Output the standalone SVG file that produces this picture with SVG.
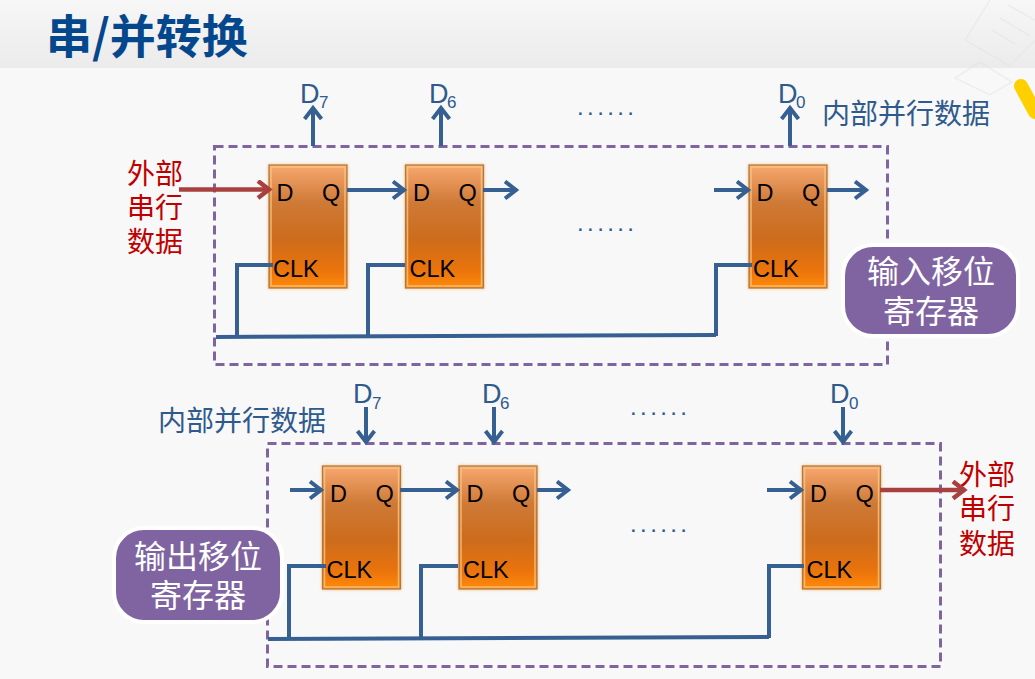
<svg xmlns="http://www.w3.org/2000/svg" width="1035" height="679" viewBox="0 0 1035 679">
<style>
.cjk{font-family:"Noto Sans CJK SC","Liberation Sans",sans-serif}
.lat{font-family:"Liberation Sans",Arial,sans-serif}
.ff{font-size:23.500px;fill:#000}
.red{fill:#c00000;font-size:28px;text-anchor:middle}
.int{font-size:28px;fill:#2f5a8e}
.dots{font-size:24px;fill:#2f5a8e;letter-spacing:3.400px}
.d{font-size:27px;fill:#2f5a8e}
.sub{font-size:17px;fill:#2f5a8e}
.wire{fill:none;stroke:#376092;stroke-width:4}
.arr{fill:none;stroke:#376092;stroke-width:4;marker-end:url(#bh)}
.rarr{fill:none;stroke:#a84040;stroke-width:4.5;marker-end:url(#rh)}
.dash{fill:none;stroke:#8064a2;stroke-width:3;stroke-dasharray:9 5}
.pill{fill:#8064a2;stroke:#fff;stroke-width:4}
.pt{font-size:32px;fill:#fff;text-anchor:middle}
.glow{fill:#f8c890;filter:url(#g)}
.box{fill:url(#o);stroke:#a87a48;stroke-width:1.2}
.in{fill:none;stroke:#ffc680;stroke-width:1.5;opacity:.8}
</style>
<defs>
<linearGradient id="h" x1="0" y1="0" x2="0" y2="1"><stop offset="0" stop-color="#f7f7f7"/><stop offset="1" stop-color="#ebebeb"/></linearGradient>
<linearGradient id="o" x1="0" y1="0" x2="0" y2="1"><stop offset="0" stop-color="#f8a870"/><stop offset=".3" stop-color="#cf7a38"/><stop offset=".6" stop-color="#cc6c1c"/><stop offset=".85" stop-color="#ea730c"/><stop offset="1" stop-color="#ff8a0a"/></linearGradient>
<filter id="g" x="-10%" y="-10%" width="120%" height="120%"><feGaussianBlur stdDeviation="1.500"/></filter>
<marker id="bh" markerUnits="userSpaceOnUse" markerWidth="20" markerHeight="22" refX="16" refY="10" orient="auto"><path d="M4 1.5L15 10L4 18.5" fill="none" stroke="#376092" stroke-width="4"/></marker>
<marker id="rh" markerUnits="userSpaceOnUse" markerWidth="20" markerHeight="22" refX="16" refY="10" orient="auto"><path d="M4 1.5L15 10L4 18.5" fill="none" stroke="#a84040" stroke-width="4.5"/></marker>
<g id="ffs">
<rect class="glow" x="-1" y="-1" width="80" height="125"/>
<rect class="box" x="0" y="0" width="78" height="123"/>
<rect class="in" x="2" y="2" width="74" height="119"/>
<text class="lat ff" x="7.500" y="36">D</text>
<text class="lat ff" x="53" y="36">Q</text>
<text class="lat ff" x="4" y="112">CLK</text>
</g>
</defs>

<rect width="1035" height="679" fill="#f8f8f8"/>
<rect width="1035" height="68" fill="url(#h)"/>
<g opacity=".45" fill="none" stroke="#dfe3e3" stroke-width="1.500">
<path d="M990 0L965 40L1010 66L1035 40M1008 5L1035 20M1000 18L1030 36M992 30L1015 44"/>
<path d="M955 78L980 62L1012 82L990 95Z"/>
</g>
<path d="M1021 86L1035 112" fill="none" stroke="#ffd000" stroke-width="14" stroke-linecap="round"/>
<text id="title" class="cjk" x="46" y="53" font-size="46" font-weight="700" fill="#05478c">串/并转换</text>

<g id="input-register">
<rect class="dash" x="214.500" y="146.500" width="673" height="218"/>
<use id="ff-in-7" href="#ffs" x="269" y="165"/>
<use id="ff-in-6" href="#ffs" x="405.500" y="165"/>
<use id="ff-in-0" href="#ffs" x="749" y="165"/>
<g id="pill-in"><rect class="pill" x="843" y="245" width="175" height="91" rx="30"/>
<text class="cjk pt" x="931" y="283">输入移位</text><text class="cjk pt" x="931" y="323">寄存器</text></g>
<g id="lbl-in" class="lat">
<text class="d" x="300" y="103">D</text><text class="sub" x="319" y="108">7</text>
<text class="d" x="429" y="103">D</text><text class="sub" x="447" y="108">6</text>
<text class="d" x="778" y="103">D</text><text class="sub" x="796" y="108">0</text>
<text class="dots" x="577" y="115">......</text>
<text class="dots" x="577" y="231">......</text>
</g>
<text class="cjk int" x="822" y="124">内部并行数据</text>
<text class="cjk red" x="155" y="184">外部</text>
<text class="cjk red" x="155" y="218">串行</text>
<text class="cjk red" x="155" y="252">数据</text>
</g>

<g id="output-register">
<rect class="dash" x="267.500" y="443.500" width="673" height="223"/>
<use id="ff-out-7" href="#ffs" x="322.500" y="466"/>
<use id="ff-out-6" href="#ffs" x="459" y="466"/>
<use id="ff-out-0" href="#ffs" x="802.500" y="466"/>
<g id="pill-out"><rect class="pill" x="114" y="528" width="168" height="94" rx="30"/>
<text class="cjk pt" x="198" y="568">输出移位</text><text class="cjk pt" x="198" y="607">寄存器</text></g>
<g id="lbl-out" class="lat">
<text class="d" x="353" y="403">D</text><text class="sub" x="372" y="409">7</text>
<text class="d" x="482" y="403">D</text><text class="sub" x="500" y="409">6</text>
<text class="d" x="830" y="403">D</text><text class="sub" x="849" y="409">0</text>
<text class="dots" x="630" y="415">......</text>
<text class="dots" x="630" y="532">......</text>
</g>
<text class="cjk int" x="158" y="431">内部并行数据</text>
<text class="cjk red" x="987" y="485">外部</text>
<text class="cjk red" x="987" y="519">串行</text>
<text class="cjk red" x="987" y="554">数据</text>
</g>

<g id="connectors">
<path class="arr" d="M313 146V107"/>
<path class="arr" d="M441 146V107"/>
<path class="arr" d="M790 146V107"/>
<path class="arr" d="M347 190H405"/>
<path class="arr" d="M483 190H517"/>
<path class="arr" d="M714 190H749"/>
<path class="arr" d="M827 190H867"/>
<path class="rarr" d="M179 189.500H270"/>
<path class="wire" d="M216 337L716 335"/>
<path class="wire" d="M273 265H237V336"/>
<path class="wire" d="M405 265H368V336"/>
<path class="wire" d="M752 265H716V336"/>
<path class="arr" d="M366 407V443"/>
<path class="arr" d="M494 407V443"/>
<path class="arr" d="M843 407V443"/>
<path class="arr" d="M290 490H322"/>
<path class="arr" d="M400 490H458"/>
<path class="arr" d="M537 490H569"/>
<path class="arr" d="M767 490H802"/>
<path class="rarr" d="M880 490H965"/>
<path class="wire" d="M268 639L769 637"/>
<path class="wire" d="M326 566H289V638"/>
<path class="wire" d="M458 566H421V638"/>
<path class="wire" d="M804 566H769V638"/>
</g>
</svg>
